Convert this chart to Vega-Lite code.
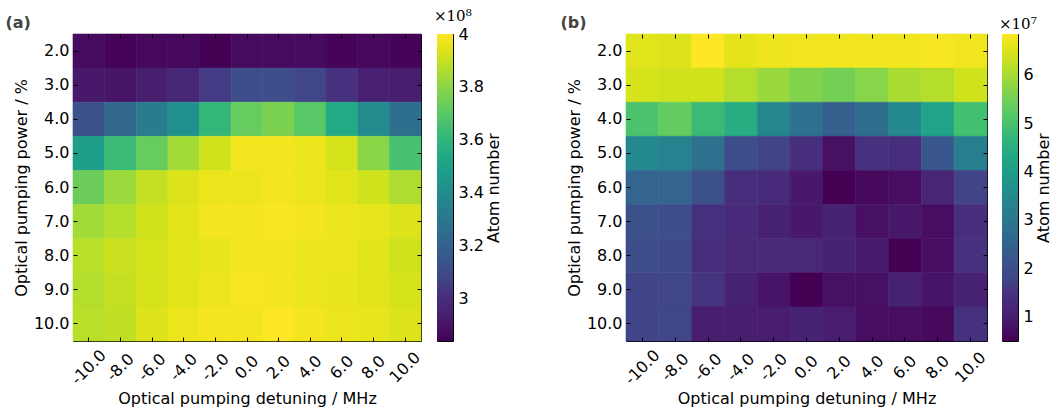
{
  "$schema": "https://vega.github.io/schema/vega-lite/v6.json",
  "background": "white",
  "padding": {"left": 4, "top": 8, "right": 0, "bottom": 0},
  "config": {
    "view": {"stroke": "black", "strokeWidth": 1},
    "axis": {
      "domain": false,
      "grid": false,
      "tickColor": "black",
      "tickSize": -4,
      "labelColor": "black",
      "titleColor": "black",
      "labelFont": "DejaVu Sans",
      "titleFont": "DejaVu Sans",
      "labelFontSize": 16,
      "titleFontSize": 16,
      "titleFontWeight": "normal",
      "labelOverlap": false,
      "labelFlush": false
    }
  },
  "resolve": {"scale": {"color": "independent", "stroke": "independent"}},
  "datasets": {
    "a": [
      {"det": -10, "pow": 2, "atoms": 2.87e8}, {"det": -8, "pow": 2, "atoms": 2.85e8}, {"det": -6, "pow": 2, "atoms": 2.86e8}, {"det": -4, "pow": 2, "atoms": 2.86e8}, {"det": -2, "pow": 2, "atoms": 2.84e8}, {"det": 0, "pow": 2, "atoms": 2.87e8}, {"det": 2, "pow": 2, "atoms": 2.87e8}, {"det": 4, "pow": 2, "atoms": 2.87e8}, {"det": 6, "pow": 2, "atoms": 2.85e8}, {"det": 8, "pow": 2, "atoms": 2.86e8}, {"det": 10, "pow": 2, "atoms": 2.85e8},
      {"det": -10, "pow": 3, "atoms": 2.91e8}, {"det": -8, "pow": 3, "atoms": 2.90e8}, {"det": -6, "pow": 3, "atoms": 2.93e8}, {"det": -4, "pow": 3, "atoms": 2.96e8}, {"det": -2, "pow": 3, "atoms": 3.04e8}, {"det": 0, "pow": 3, "atoms": 3.11e8}, {"det": 2, "pow": 3, "atoms": 3.11e8}, {"det": 4, "pow": 3, "atoms": 3.08e8}, {"det": 6, "pow": 3, "atoms": 3.00e8}, {"det": 8, "pow": 3, "atoms": 2.94e8}, {"det": 10, "pow": 3, "atoms": 2.93e8},
      {"det": -10, "pow": 4, "atoms": 3.12e8}, {"det": -8, "pow": 4, "atoms": 3.22e8}, {"det": -6, "pow": 4, "atoms": 3.32e8}, {"det": -4, "pow": 4, "atoms": 3.42e8}, {"det": -2, "pow": 4, "atoms": 3.61e8}, {"det": 0, "pow": 4, "atoms": 3.73e8}, {"det": 2, "pow": 4, "atoms": 3.77e8}, {"det": 4, "pow": 4, "atoms": 3.70e8}, {"det": 6, "pow": 4, "atoms": 3.54e8}, {"det": 8, "pow": 4, "atoms": 3.39e8}, {"det": 10, "pow": 4, "atoms": 3.26e8},
      {"det": -10, "pow": 5, "atoms": 3.49e8}, {"det": -8, "pow": 5, "atoms": 3.63e8}, {"det": -6, "pow": 5, "atoms": 3.73e8}, {"det": -4, "pow": 5, "atoms": 3.84e8}, {"det": -2, "pow": 5, "atoms": 3.92e8}, {"det": 0, "pow": 5, "atoms": 3.98e8}, {"det": 2, "pow": 5, "atoms": 3.98e8}, {"det": 4, "pow": 5, "atoms": 3.97e8}, {"det": 6, "pow": 5, "atoms": 3.93e8}, {"det": 8, "pow": 5, "atoms": 3.80e8}, {"det": 10, "pow": 5, "atoms": 3.66e8},
      {"det": -10, "pow": 6, "atoms": 3.74e8}, {"det": -8, "pow": 6, "atoms": 3.83e8}, {"det": -6, "pow": 6, "atoms": 3.90e8}, {"det": -4, "pow": 6, "atoms": 3.94e8}, {"det": -2, "pow": 6, "atoms": 3.97e8}, {"det": 0, "pow": 6, "atoms": 3.97e8}, {"det": 2, "pow": 6, "atoms": 3.98e8}, {"det": 4, "pow": 6, "atoms": 3.97e8}, {"det": 6, "pow": 6, "atoms": 3.95e8}, {"det": 8, "pow": 6, "atoms": 3.92e8}, {"det": 10, "pow": 6, "atoms": 3.86e8},
      {"det": -10, "pow": 7, "atoms": 3.84e8}, {"det": -8, "pow": 7, "atoms": 3.87e8}, {"det": -6, "pow": 7, "atoms": 3.92e8}, {"det": -4, "pow": 7, "atoms": 3.95e8}, {"det": -2, "pow": 7, "atoms": 3.98e8}, {"det": 0, "pow": 7, "atoms": 3.98e8}, {"det": 2, "pow": 7, "atoms": 3.99e8}, {"det": 4, "pow": 7, "atoms": 3.98e8}, {"det": 6, "pow": 7, "atoms": 3.97e8}, {"det": 8, "pow": 7, "atoms": 3.96e8}, {"det": 10, "pow": 7, "atoms": 3.94e8},
      {"det": -10, "pow": 8, "atoms": 3.88e8}, {"det": -8, "pow": 8, "atoms": 3.91e8}, {"det": -6, "pow": 8, "atoms": 3.93e8}, {"det": -4, "pow": 8, "atoms": 3.95e8}, {"det": -2, "pow": 8, "atoms": 3.96e8}, {"det": 0, "pow": 8, "atoms": 3.98e8}, {"det": 2, "pow": 8, "atoms": 3.98e8}, {"det": 4, "pow": 8, "atoms": 3.97e8}, {"det": 6, "pow": 8, "atoms": 3.97e8}, {"det": 8, "pow": 8, "atoms": 3.95e8}, {"det": 10, "pow": 8, "atoms": 3.92e8},
      {"det": -10, "pow": 9, "atoms": 3.87e8}, {"det": -8, "pow": 9, "atoms": 3.90e8}, {"det": -6, "pow": 9, "atoms": 3.93e8}, {"det": -4, "pow": 9, "atoms": 3.95e8}, {"det": -2, "pow": 9, "atoms": 3.97e8}, {"det": 0, "pow": 9, "atoms": 3.99e8}, {"det": 2, "pow": 9, "atoms": 3.98e8}, {"det": 4, "pow": 9, "atoms": 3.97e8}, {"det": 6, "pow": 9, "atoms": 3.96e8}, {"det": 8, "pow": 9, "atoms": 3.95e8}, {"det": 10, "pow": 9, "atoms": 3.93e8},
      {"det": -10, "pow": 10, "atoms": 3.88e8}, {"det": -8, "pow": 10, "atoms": 3.89e8}, {"det": -6, "pow": 10, "atoms": 3.94e8}, {"det": -4, "pow": 10, "atoms": 3.97e8}, {"det": -2, "pow": 10, "atoms": 3.98e8}, {"det": 0, "pow": 10, "atoms": 3.98e8}, {"det": 2, "pow": 10, "atoms": 4.00e8}, {"det": 4, "pow": 10, "atoms": 3.98e8}, {"det": 6, "pow": 10, "atoms": 3.97e8}, {"det": 8, "pow": 10, "atoms": 3.96e8}, {"det": 10, "pow": 10, "atoms": 3.94e8}
    ],
    "b": [
      {"det": -10, "pow": 2, "atoms": 6.55e7}, {"det": -8, "pow": 2, "atoms": 6.52e7}, {"det": -6, "pow": 2, "atoms": 6.84e7}, {"det": -4, "pow": 2, "atoms": 6.59e7}, {"det": -2, "pow": 2, "atoms": 6.68e7}, {"det": 0, "pow": 2, "atoms": 6.71e7}, {"det": 2, "pow": 2, "atoms": 6.71e7}, {"det": 4, "pow": 2, "atoms": 6.71e7}, {"det": 6, "pow": 2, "atoms": 6.71e7}, {"det": 8, "pow": 2, "atoms": 6.78e7}, {"det": 10, "pow": 2, "atoms": 6.71e7},
      {"det": -10, "pow": 3, "atoms": 6.46e7}, {"det": -8, "pow": 3, "atoms": 6.40e7}, {"det": -6, "pow": 3, "atoms": 6.40e7}, {"det": -4, "pow": 3, "atoms": 6.14e7}, {"det": -2, "pow": 3, "atoms": 5.89e7}, {"det": 0, "pow": 3, "atoms": 5.64e7}, {"det": 2, "pow": 3, "atoms": 5.51e7}, {"det": 4, "pow": 3, "atoms": 5.70e7}, {"det": 6, "pow": 3, "atoms": 6.05e7}, {"det": 8, "pow": 3, "atoms": 6.14e7}, {"det": 10, "pow": 3, "atoms": 6.40e7},
      {"det": -10, "pow": 4, "atoms": 5.06e7}, {"det": -8, "pow": 4, "atoms": 5.32e7}, {"det": -6, "pow": 4, "atoms": 4.81e7}, {"det": -4, "pow": 4, "atoms": 4.43e7}, {"det": -2, "pow": 4, "atoms": 3.42e7}, {"det": 0, "pow": 4, "atoms": 2.85e7}, {"det": 2, "pow": 4, "atoms": 2.40e7}, {"det": 4, "pow": 4, "atoms": 2.72e7}, {"det": 6, "pow": 4, "atoms": 3.48e7}, {"det": 8, "pow": 4, "atoms": 4.18e7}, {"det": 10, "pow": 4, "atoms": 4.94e7},
      {"det": -10, "pow": 5, "atoms": 3.48e7}, {"det": -8, "pow": 5, "atoms": 3.29e7}, {"det": -6, "pow": 5, "atoms": 2.85e7}, {"det": -4, "pow": 5, "atoms": 1.96e7}, {"det": -2, "pow": 5, "atoms": 1.77e7}, {"det": 0, "pow": 5, "atoms": 1.32e7}, {"det": 2, "pow": 5, "atoms": 0.75e7}, {"det": 4, "pow": 5, "atoms": 1.39e7}, {"det": 6, "pow": 5, "atoms": 1.32e7}, {"det": 8, "pow": 5, "atoms": 2.21e7}, {"det": 10, "pow": 5, "atoms": 3.16e7},
      {"det": -10, "pow": 6, "atoms": 2.53e7}, {"det": -8, "pow": 6, "atoms": 2.53e7}, {"det": -6, "pow": 6, "atoms": 2.02e7}, {"det": -4, "pow": 6, "atoms": 1.32e7}, {"det": -2, "pow": 6, "atoms": 1.26e7}, {"det": 0, "pow": 6, "atoms": 0.88e7}, {"det": 2, "pow": 6, "atoms": 0.50e7}, {"det": 4, "pow": 6, "atoms": 0.63e7}, {"det": 6, "pow": 6, "atoms": 0.69e7}, {"det": 8, "pow": 6, "atoms": 1.13e7}, {"det": 10, "pow": 6, "atoms": 1.77e7},
      {"det": -10, "pow": 7, "atoms": 2.02e7}, {"det": -8, "pow": 7, "atoms": 2.00e7}, {"det": -6, "pow": 7, "atoms": 1.39e7}, {"det": -4, "pow": 7, "atoms": 1.26e7}, {"det": -2, "pow": 7, "atoms": 1.07e7}, {"det": 0, "pow": 7, "atoms": 0.88e7}, {"det": 2, "pow": 7, "atoms": 1.07e7}, {"det": 4, "pow": 7, "atoms": 0.75e7}, {"det": 6, "pow": 7, "atoms": 0.88e7}, {"det": 8, "pow": 7, "atoms": 0.69e7}, {"det": 10, "pow": 7, "atoms": 1.32e7},
      {"det": -10, "pow": 8, "atoms": 1.96e7}, {"det": -8, "pow": 8, "atoms": 1.89e7}, {"det": -6, "pow": 8, "atoms": 1.32e7}, {"det": -4, "pow": 8, "atoms": 1.20e7}, {"det": -2, "pow": 8, "atoms": 1.20e7}, {"det": 0, "pow": 8, "atoms": 1.20e7}, {"det": 2, "pow": 8, "atoms": 1.07e7}, {"det": 4, "pow": 8, "atoms": 0.94e7}, {"det": 6, "pow": 8, "atoms": 0.50e7}, {"det": 8, "pow": 8, "atoms": 0.69e7}, {"det": 10, "pow": 8, "atoms": 1.39e7},
      {"det": -10, "pow": 9, "atoms": 1.77e7}, {"det": -8, "pow": 9, "atoms": 1.80e7}, {"det": -6, "pow": 9, "atoms": 1.45e7}, {"det": -4, "pow": 9, "atoms": 1.07e7}, {"det": -2, "pow": 9, "atoms": 0.82e7}, {"det": 0, "pow": 9, "atoms": 0.50e7}, {"det": 2, "pow": 9, "atoms": 0.75e7}, {"det": 4, "pow": 9, "atoms": 0.75e7}, {"det": 6, "pow": 9, "atoms": 1.07e7}, {"det": 8, "pow": 9, "atoms": 0.82e7}, {"det": 10, "pow": 9, "atoms": 1.07e7},
      {"det": -10, "pow": 10, "atoms": 1.77e7}, {"det": -8, "pow": 10, "atoms": 1.83e7}, {"det": -6, "pow": 10, "atoms": 1.00e7}, {"det": -4, "pow": 10, "atoms": 1.00e7}, {"det": -2, "pow": 10, "atoms": 0.97e7}, {"det": 0, "pow": 10, "atoms": 1.07e7}, {"det": 2, "pow": 10, "atoms": 0.97e7}, {"det": 4, "pow": 10, "atoms": 0.69e7}, {"det": 6, "pow": 10, "atoms": 0.69e7}, {"det": 8, "pow": 10, "atoms": 0.63e7}, {"det": 10, "pow": 10, "atoms": 1.39e7}
    ]
  },
  "spacing": 57,
  "hconcat": [
    {
      "spacing": 16,
      "bounds": "flush",
      "resolve": {"scale": {"color": "independent", "stroke": "independent"}},
      "hconcat": [
        {
          "data": {"name": "a"},
          "width": 348,
          "height": 307,
          "title": {"text": "(a)", "anchor": "start", "frame": "bounds", "font": "DejaVu Sans", "fontSize": 16, "fontWeight": "bold", "color": "#444444", "dx": -8, "offset": -10, "baseline": "alphabetic"},
          "layer": [
            {
              "mark": {"type": "rect", "strokeWidth": 0.6},
              "encoding": {
                "x": {"field": "det", "type": "ordinal", "title": "Optical pumping detuning / MHz",
                  "axis": {"labelAngle": -45, "labelAlign": "center", "labelBaseline": "middle", "labelPadding": 30, "titlePadding": 3,
                    "labelExpr": "(datum.value < 0 ? '-' : '') + format(abs(datum.value), '.1f')"}},
                "y": {"field": "pow", "type": "ordinal", "title": "Optical pumping power / %",
                  "axis": {"labelPadding": 8, "titlePadding": 4, "labelExpr": "format(datum.value, '.1f')"}},
                "color": {"field": "atoms", "type": "quantitative", "scale": {"scheme": "viridis", "zero": false, "nice": false}, "legend": null},
                "stroke": {"field": "atoms", "type": "quantitative", "scale": {"scheme": "viridis", "zero": false, "nice": false}, "legend": null}
              }
            },
            {
              "mark": {"type": "rect", "opacity": 0},
              "encoding": {
                "x": {"field": "det", "type": "ordinal", "axis": {"orient": "top", "labels": false, "title": null}},
                "y": {"field": "pow", "type": "ordinal", "axis": {"orient": "right", "labels": false, "title": null}}
              }
            }
          ],
          "resolve": {"axis": {"x": "independent", "y": "independent"}}
        },
        {
          "data": {"name": "a"},
          "width": 16,
          "height": 307,
          "title": {"text": "×10⁸", "anchor": "start", "frame": "group", "font": "DejaVu Serif", "fontSize": 15, "fontWeight": "normal", "color": "black", "dx": -3, "offset": -10, "baseline": "alphabetic"},
          "mark": {"type": "rect", "color": {"gradient": "linear", "x1": 0, "y1": 1, "x2": 0, "y2": 0, "stops": [
            {"offset": 0, "color": "#440154"}, {"offset": 0.05, "color": "#471365"}, {"offset": 0.1, "color": "#482475"}, {"offset": 0.15, "color": "#472f7d"}, {"offset": 0.2, "color": "#414487"}, {"offset": 0.25, "color": "#3b528b"}, {"offset": 0.3, "color": "#355f8d"}, {"offset": 0.35, "color": "#2f6c8e"}, {"offset": 0.4, "color": "#2a788e"}, {"offset": 0.45, "color": "#25848e"}, {"offset": 0.5, "color": "#21918c"}, {"offset": 0.55, "color": "#1e9c89"}, {"offset": 0.6, "color": "#22a884"}, {"offset": 0.65, "color": "#2fb47c"}, {"offset": 0.7, "color": "#44bf70"}, {"offset": 0.75, "color": "#5ec962"}, {"offset": 0.8, "color": "#7ad151"}, {"offset": 0.85, "color": "#9bd93c"}, {"offset": 0.9, "color": "#bddf26"}, {"offset": 0.95, "color": "#dfe318"}, {"offset": 1, "color": "#fde725"}]}},
          "encoding": {
            "y": {"aggregate": "min", "field": "atoms", "type": "quantitative", "title": "Atom number",
              "scale": {"zero": false, "nice": false},
              "axis": {"orient": "right", "values": [3e8, 3.2e8, 3.4e8, 3.6e8, 3.8e8, 4e8], "labelExpr": "format(datum.value / 1e8, '~g')", "labelPadding": 9, "labelFontSize": 16, "titleAngle": 270, "titleBaseline": "top", "titlePadding": 2}},
            "y2": {"aggregate": "max", "field": "atoms"}
          }
        }
      ]
    },
    {
      "spacing": 15,
      "bounds": "flush",
      "resolve": {"scale": {"color": "independent", "stroke": "independent"}},
      "hconcat": [
        {
          "data": {"name": "b"},
          "width": 361,
          "height": 307,
          "title": {"text": "(b)", "anchor": "start", "frame": "bounds", "font": "DejaVu Sans", "fontSize": 16, "fontWeight": "bold", "color": "#444444", "dx": -6, "offset": -10, "baseline": "alphabetic"},
          "layer": [
            {
              "mark": {"type": "rect", "strokeWidth": 0.6},
              "encoding": {
                "x": {"field": "det", "type": "ordinal", "title": "Optical pumping detuning / MHz",
                  "axis": {"labelAngle": -45, "labelAlign": "center", "labelBaseline": "middle", "labelPadding": 30, "titlePadding": 3,
                    "labelExpr": "(datum.value < 0 ? '-' : '') + format(abs(datum.value), '.1f')"}},
                "y": {"field": "pow", "type": "ordinal", "title": "Optical pumping power / %",
                  "axis": {"labelPadding": 8, "titlePadding": 4, "labelExpr": "format(datum.value, '.1f')"}},
                "color": {"field": "atoms", "type": "quantitative", "scale": {"scheme": "viridis", "zero": false, "nice": false}, "legend": null},
                "stroke": {"field": "atoms", "type": "quantitative", "scale": {"scheme": "viridis", "zero": false, "nice": false}, "legend": null}
              }
            },
            {
              "mark": {"type": "rect", "opacity": 0},
              "encoding": {
                "x": {"field": "det", "type": "ordinal", "axis": {"orient": "top", "labels": false, "title": null}},
                "y": {"field": "pow", "type": "ordinal", "axis": {"orient": "right", "labels": false, "title": null}}
              }
            }
          ],
          "resolve": {"axis": {"x": "independent", "y": "independent"}}
        },
        {
          "data": {"name": "b"},
          "width": 16,
          "height": 307,
          "title": {"text": "×10⁷", "anchor": "start", "frame": "group", "font": "DejaVu Serif", "fontSize": 15, "fontWeight": "normal", "color": "black", "dx": -3, "offset": -10, "baseline": "alphabetic"},
          "mark": {"type": "rect", "color": {"gradient": "linear", "x1": 0, "y1": 1, "x2": 0, "y2": 0, "stops": [
            {"offset": 0, "color": "#440154"}, {"offset": 0.05, "color": "#471365"}, {"offset": 0.1, "color": "#482475"}, {"offset": 0.15, "color": "#472f7d"}, {"offset": 0.2, "color": "#414487"}, {"offset": 0.25, "color": "#3b528b"}, {"offset": 0.3, "color": "#355f8d"}, {"offset": 0.35, "color": "#2f6c8e"}, {"offset": 0.4, "color": "#2a788e"}, {"offset": 0.45, "color": "#25848e"}, {"offset": 0.5, "color": "#21918c"}, {"offset": 0.55, "color": "#1e9c89"}, {"offset": 0.6, "color": "#22a884"}, {"offset": 0.65, "color": "#2fb47c"}, {"offset": 0.7, "color": "#44bf70"}, {"offset": 0.75, "color": "#5ec962"}, {"offset": 0.8, "color": "#7ad151"}, {"offset": 0.85, "color": "#9bd93c"}, {"offset": 0.9, "color": "#bddf26"}, {"offset": 0.95, "color": "#dfe318"}, {"offset": 1, "color": "#fde725"}]}},
          "encoding": {
            "y": {"aggregate": "min", "field": "atoms", "type": "quantitative", "title": "Atom number",
              "scale": {"zero": false, "nice": false},
              "axis": {"orient": "right", "values": [1e7, 2e7, 3e7, 4e7, 5e7, 6e7], "labelExpr": "format(datum.value / 1e7, '~g')", "labelPadding": 9, "labelFontSize": 16, "titleAngle": 270, "titleBaseline": "top", "titlePadding": 2}},
            "y2": {"aggregate": "max", "field": "atoms"}
          }
        }
      ]
    }
  ]
}
